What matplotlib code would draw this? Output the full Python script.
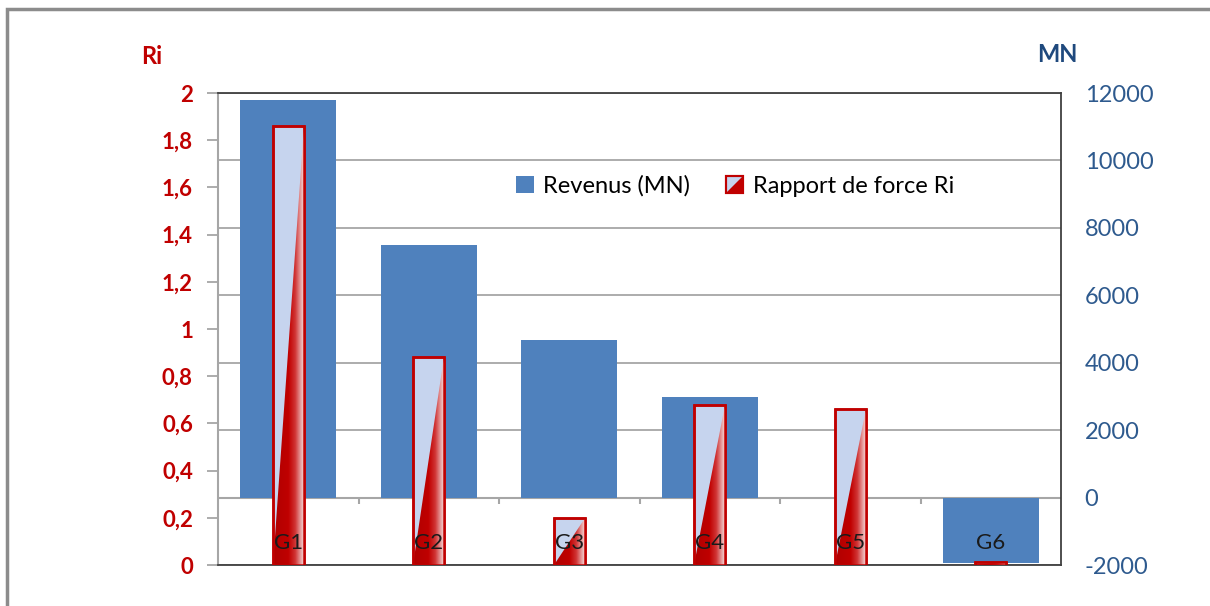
import matplotlib
matplotlib.use("Agg")
import matplotlib.pyplot as plt
import numpy as np
from matplotlib.patches import Rectangle, Polygon
from matplotlib.colors import LinearSegmentedColormap
from matplotlib.legend_handler import HandlerBase
from matplotlib.ticker import FuncFormatter

categories = ["G1", "G2", "G3", "G4", "G5", "G6"]
revenus = [11780, 7480, 4660, 2970, 0, -1930]
ri = [1.86, 0.88, 0.20, 0.68, 0.66, 0.013]
ri_ticks = [0, 0.2, 0.4, 0.6, 0.8, 1.0, 1.2, 1.4, 1.6, 1.8, 2.0]
mn_ticks = [-2000, 0, 2000, 4000, 6000, 8000, 10000, 12000]

plt.rcParams['font.family'] = ['Lato', 'DejaVu Sans']
plt.rcParams['axes.unicode_minus'] = False

RED = '#C00000'
BLUE = '#4F81BD'
LIGHT = '#C6D4EE'
DKBLUE = '#1F497D'
TICKBLUE = '#2E5A8E'

fig = plt.figure(figsize=(12.10, 6.06), dpi=100)
W, H = 1210, 606
ax = fig.add_axes([218 / W, 1 - 565 / H, (1061 - 218) / W, (565 - 93) / H])
ax2 = ax.twinx()

x = np.arange(len(categories))

# Revenue bars (right axis, behind)
ax2.set_zorder(1)
ax.set_zorder(2)
ax.patch.set_visible(False)
ax2.bar(x, revenus, width=0.68, color=BLUE, zorder=2)
ax2.set_ylim(mn_ticks[0], mn_ticks[-1])
ax2.set_yticks(mn_ticks)
ax2.yaxis.grid(True, color='#A6A6A6', linewidth=1.3, zorder=0)
ax2.set_axisbelow(True)
ax2.tick_params(axis='y', length=0, pad=17, labelsize=17, labelcolor=TICKBLUE)
# category axis at zero
ax2.axhline(0, color='#A6A6A6', linewidth=1.5, zorder=1.5)
ax2.vlines(np.arange(len(categories) - 1) + 0.5, -200, 0,
           color='#A6A6A6', linewidth=1.5, zorder=1.5)

# Ri bars (left axis)
bars = ax.bar(x, ri, width=0.22, facecolor=LIGHT, edgecolor=RED, linewidth=1.8, zorder=3)
cmap = LinearSegmentedColormap.from_list(
    'rg', [(0.0, '#B00000'), (0.5, '#C00000'), (0.72, '#D03434'), (0.9, '#E8A0A0'), (1.0, '#F6DADA')])
grad = np.linspace(0, 1, 256).reshape(1, -1)
for b in bars:
    x0, w, h = b.get_x(), b.get_width(), b.get_height()
    im = ax.imshow(grad, extent=[x0, x0 + w, 0, h], aspect='auto', cmap=cmap,
                   zorder=3.5, origin='lower', interpolation='bicubic')
    tri = Polygon([(x0, 0), (x0 + w, 0), (x0 + w, h)], closed=True, transform=ax.transData)
    im.set_clip_path(tri)
    ax.add_patch(Rectangle((x0, 0), w, h, facecolor='none', edgecolor=RED,
                           linewidth=1.8, zorder=4))

ax.set_xlim(-0.5, len(categories) - 0.5)
ax.set_ylim(ri_ticks[0], ri_ticks[-1])
ax.set_yticks(ri_ticks)
ax.yaxis.set_major_formatter(FuncFormatter(lambda v, p: ('%g' % round(v, 1)).replace('.', ',')))
ax.tick_params(axis='y', length=8, width=1.3, color='#A6A6A6', pad=10,
               labelsize=16, labelcolor=RED)
for t in ax.get_yticklabels():
    t.set_fontweight('bold')
ax.set_xticks([])
ax2.set_xticks([])

for s in ['top', 'right', 'bottom']:
    ax.spines[s].set_color('#404040')
    ax.spines[s].set_linewidth(1.3)
    ax2.spines[s].set_visible(False)
ax.spines['left'].set_color('#A6A6A6')
ax.spines['left'].set_linewidth(1.5)
ax2.spines['left'].set_visible(False)

# category labels near the zero line (drawn on the top axes so they stay visible)
for i, c in enumerate(categories):
    ax.annotate(c, xy=(i, 0), xycoords=ax2.transData, xytext=(0, -33),
                textcoords='offset points', ha='center', va='center',
                fontsize=16, color='#1a1a1a', zorder=6)

# axis titles
fig.text(152 / W, 1 - 57 / H, 'Ri', ha='center', va='center', fontsize=17,
         fontweight='bold', color=RED)
fig.text(1057 / W, 1 - 55 / H, 'MN', ha='center', va='center', fontsize=17,
         fontweight='bold', color=DKBLUE)


class SplitHandler(HandlerBase):
    def create_artists(self, legend, orig_handle, xdescent, ydescent, width, height, fontsize, trans):
        s = min(width, height)
        x0 = xdescent + (width - s) / 2
        y0 = -ydescent + (height - s) / 2
        r = Rectangle((x0, y0), s, s, facecolor=LIGHT, edgecolor=RED, linewidth=1.5, transform=trans)
        t = Polygon([(x0, y0), (x0 + s, y0), (x0 + s, y0 + s)], closed=True,
                    facecolor=RED, edgecolor='none', transform=trans)
        r2 = Rectangle((x0, y0), s, s, facecolor='none', edgecolor=RED, linewidth=1.5, transform=trans)
        return [r, t, r2]


h1 = Rectangle((0, 0), 1, 1, facecolor=BLUE)
h2 = Rectangle((0, 0), 1, 1, facecolor=LIGHT, edgecolor=RED)
leg = fig.legend([h1, h2], ['Revenus (MN)', 'Rapport de force Ri'], loc='center',
                 bbox_to_anchor=(735 / W, 1 - 186 / H), ncol=2, frameon=False,
                 fontsize=17, handlelength=0.75, handleheight=0.75, handletextpad=0.4,
                 columnspacing=1.5, handler_map={h2: SplitHandler()})

# outer chart border
fig.patches.append(Rectangle((7 / W, -0.1), 1.2, 1 - 9 / H + 0.1, transform=fig.transFigure,
                             facecolor='none', edgecolor='#8C8C8C', linewidth=2.5))

fig.savefig('out.png', dpi=100)
